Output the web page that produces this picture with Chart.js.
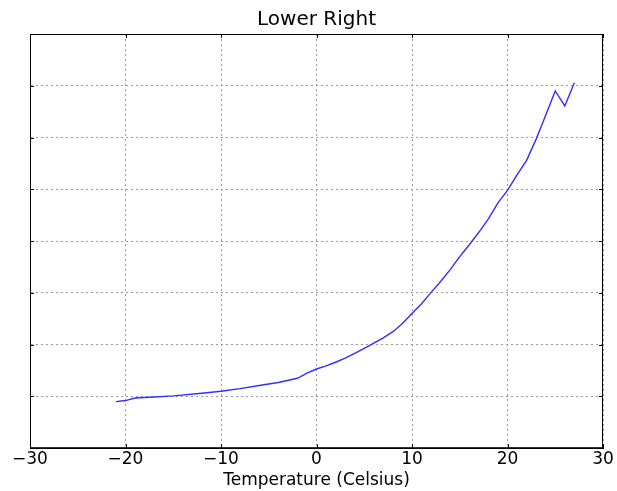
<!DOCTYPE html>
<html>
<head>
<meta charset="utf-8">
<script src="https://cdn.jsdelivr.net/npm/chart.js@4"></script>
<style>
  html, body { margin: 0; padding: 0; background: #fff; }
  canvas { display: block; }
</style>
</head>
<body>
<canvas id="chart" width="617" height="491"></canvas>
<script>
// temperatures (Celsius) and values
let temps = [-21, -20, -19, -17, -15, -12, -10, -8, -6, -4, -2, -1, 0, 1, 2, 3, 4, 5, 6, 7, 8, 9,
    10, 11, 12, 13, 14, 15, 16, 17, 18, 19, 20, 21, 22, 23, 24, 25, 26, 27]
let values = [0.90, 0.92, 0.97, 0.99, 1.01, 1.06, 1.10, 1.15, 1.21, 1.27, 1.35, 1.45, 1.53, 1.59, 1.66, 1.74, 1.83, 1.93, 2.03, 2.13, 2.25, 2.41,
    2.60, 2.79, 3.01, 3.22, 3.45, 3.70, 3.93, 4.17, 4.43, 4.74, 4.98, 5.28, 5.56, 5.97, 6.43, 6.90, 6.61, 7.06]
let xTicks = [-30, -20, -10, 0, 10, 20, 30]
let yTicks = [1, 2, 3, 4, 5, 6, 7]

let points = temps.map(function (t, i) {
    return { x: t, y: values[i] }
})

// frame on all four sides plus small inward tick marks, like the reference
let frame = {
    id: 'frame',
    afterDraw: function (chart) {
        let a = chart.chartArea
        let c = chart.ctx
        let xs = chart.scales.x
        let ys = chart.scales.y
        c.save()
        c.strokeStyle = '#000'
        c.lineWidth = 1
        c.strokeRect(a.left + 0.5, a.top + 0.5, a.right - a.left - 1, a.bottom - a.top - 1)
        c.beginPath()
        xTicks.forEach(function (v) {
            let px = Math.round(xs.getPixelForValue(v)) + 0.5
            c.moveTo(px, a.bottom); c.lineTo(px, a.bottom - 4)
            c.moveTo(px, a.top); c.lineTo(px, a.top + 4)
        })
        yTicks.forEach(function (v) {
            let py = Math.round(ys.getPixelForValue(v)) + 0.5
            c.moveTo(a.left, py); c.lineTo(a.left + 4, py)
            c.moveTo(a.right, py); c.lineTo(a.right - 4, py)
        })
        c.stroke()
        c.restore()
    }
}

let ctx = document.getElementById('chart')
let chart = new Chart(ctx, {
    type: 'line',
    data: {
        datasets: [{
            data: points,
            borderColor: '#2f2fff',
            borderWidth: 1.4,
            pointRadius: 0,
            fill: false,
            tension: 0
        }]
    },
    plugins: [frame],
    options: {
        responsive: false,
        animation: false,
        layout: { padding: { left: 30, right: 14, top: 2, bottom: 0 } },
        plugins: {
            legend: { display: false },
            tooltip: { enabled: false },
            title: {
                display: true,
                text: 'Lower Right',
                color: '#000',
                font: { family: 'DejaVu Sans', size: 20, weight: 'normal' },
                padding: { top: 6, bottom: 2 }
            }
        },
        scales: {
            x: {
                type: 'linear',
                min: -30,
                max: 30,
                afterBuildTicks: function (axis) {
                    axis.ticks = xTicks.map(function (v) { return { value: v } })
                },
                ticks: {
                    color: '#000',
                    font: { family: 'DejaVu Sans', size: 17 },
                    padding: 1,
                    maxRotation: 0,
                    callback: function (v) { return v < 0 ? '\u2212' + Math.abs(v) : String(v) }
                },
                grid: { color: '#999', drawTicks: false },
                border: { color: '#000', width: 1, dash: [2, 3] },
                title: {
                    display: true,
                    text: 'Temperature (Celsius)',
                    color: '#000',
                    font: { family: 'DejaVu Sans', size: 17 },
                    padding: { top: 0, bottom: 0 }
                }
            },
            y: {
                type: 'linear',
                min: 0,
                max: 8,
                ticks: { display: false, stepSize: 1 },
                grid: { color: '#999', drawTicks: false },
                border: { color: '#000', width: 1, dash: [2, 3] },
                afterFit: function (axis) { axis.width = 0 }
            }
        }
    }
})
</script>
</body>
</html>
